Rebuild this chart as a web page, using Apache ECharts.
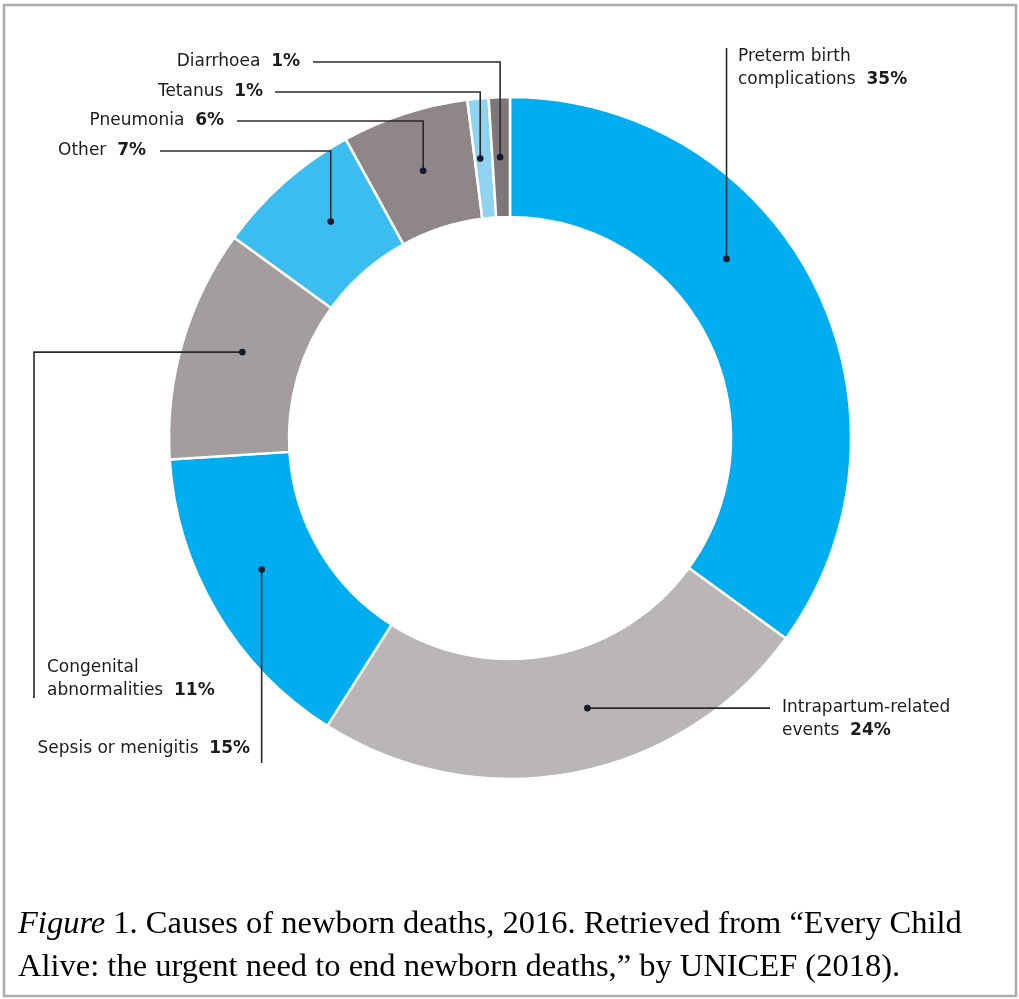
<!DOCTYPE html>
<html>
<head>
<meta charset="utf-8">
<script src="https://cdn.jsdelivr.net/npm/echarts@6/dist/echarts.min.js"></script>
<style>
html,body{margin:0;padding:0;background:#fff;}
#chart{width:1019px;height:999px;}
</style>
</head>
<body>
<div id="chart"></div>
<script>
// ---- data ----
const categories = ['Preterm birth complications', 'Intrapartum-related events', 'Sepsis or menigitis', 'Congenital abnormalities', 'Other', 'Pneumonia', 'Tetanus', 'Diarrhoea'];
const labelLines = [['Preterm birth', 'complications'], ['Intrapartum-related', 'events'], ['Sepsis or menigitis'], ['Congenital', 'abnormalities'], ['Other'], ['Pneumonia'], ['Tetanus'], ['Diarrhoea']];
const values = [35, 24, 15, 11, 7, 6, 1, 1];
const colors = ['#00AEEF', '#BAB5B6', '#00AEEF', '#A39D9E', '#3CBDEF', '#8E8687', '#8FD3F2', '#7E7778'];
const captionItalic = 'Figure';
const captionLine1 = ' 1. Causes of newborn deaths, 2016. Retrieved from \u201CEvery Child';
const captionLine2 = 'Alive: the urgent need to end newborn deaths,\u201D by UNICEF (2018).';

// ---- annotation layout (positions only) ----
const anchorFrac = [0.40, 0.44, 0.55, 0.54, 0.57, 0.50, 0.31, 0.44];
const routes = [
  {type: 'up', y: 48, lx: 738, ly: 68, align: 'left'},
  {type: 'right', x: 770, lx: 782, ly: 719, align: 'left'},
  {type: 'down', y: 763, lx: 250, ly: 749, align: 'right'},
  {type: 'leftDown', x: 34, y: 698, lx: 47, ly: 679, align: 'left'},
  {type: 'hv', y: 151, x: 160, lx: 146, ly: 151, align: 'right'},
  {type: 'hv', y: 121, x: 237, lx: 224, ly: 121, align: 'right'},
  {type: 'hv', y: 92, x: 275, lx: 263, ly: 92, align: 'right'},
  {type: 'hv', y: 62, x: 313, lx: 300, ly: 62, align: 'right'}
];

const chart = echarts.init(document.getElementById('chart'), null, {renderer: 'canvas'});
const CX = 510, CY = 438, R0 = 221, R1 = 341;

chart.setOption({
  animation: false,
  backgroundColor: '#ffffff',
  series: [{
    type: 'pie',
    center: [CX, CY],
    radius: [R0, R1],
    startAngle: 90,
    clockwise: true,
    avoidLabelOverlap: false,
    label: {show: false},
    labelLine: {show: false},
    emphasis: {disabled: true},
    itemStyle: {borderColor: '#ffffff', borderWidth: 2.5},
    data: categories.map((n, i) => ({name: n, value: values[i], itemStyle: {color: colors[i]}}))
  }]
});

// get slice layouts from the library
let layouts = [];
try {
  const d = chart.getModel().getSeriesByIndex(0).getData();
  for (let i = 0; i < values.length; i++) layouts.push(d.getItemLayout(i));
} catch (e) { layouts = []; }
if (layouts.length !== values.length) {
  const total = values.reduce((a, b) => a + b, 0);
  let cur = -Math.PI / 2;
  layouts = values.map(v => { const s = cur; cur += v / total * Math.PI * 2; return {cx: CX, cy: CY, r0: R0, r: R1, startAngle: s, endAngle: cur}; });
}

const TXT = '#1F1B1C';
const LINE = '#2A2A2A';
const rich = {
  n: {fontFamily: 'DejaVu Sans', fontSize: 17, fill: TXT, lineHeight: 23},
  p: {fontFamily: 'DejaVu Sans', fontSize: 17, fontWeight: 'bold', fill: TXT, lineHeight: 23}
};

const graphics = [];
// frame
graphics.push({type: 'rect', shape: {x: 4, y: 5, width: 1012, height: 991}, style: {fill: 'none', stroke: '#ADADAD', lineWidth: 2.5}, silent: true});

layouts.forEach((L, i) => {
  const a = L.startAngle + anchorFrac[i] * (L.endAngle - L.startAngle);
  const rm = (L.r0 + L.r) / 2;
  const dx = L.cx + rm * Math.cos(a);
  const dy = L.cy + rm * Math.sin(a);
  const rt = routes[i];
  let pts;
  if (rt.type === 'up' || rt.type === 'down') pts = [[dx, dy], [dx, rt.y]];
  else if (rt.type === 'right') pts = [[dx, dy], [rt.x, dy]];
  else if (rt.type === 'leftDown') pts = [[dx, dy], [rt.x, dy], [rt.x, rt.y]];
  else pts = [[dx, dy], [dx, rt.y], [rt.x, rt.y]];
  graphics.push({type: 'polyline', shape: {points: pts}, style: {stroke: LINE, lineWidth: 1.6, fill: 'none'}, silent: true, z: 10});
  graphics.push({type: 'circle', shape: {cx: dx, cy: dy, r: 3.3}, style: {fill: '#151A2A'}, silent: true, z: 11});
  const ls = labelLines[i];
  let text = '';
  ls.forEach((s, k) => {
    if (k > 0) text += '\n';
    text += '{n|' + s + '}';
    if (k === ls.length - 1) text += '{n|  }{p|' + values[i] + '%}';
  });
  graphics.push({type: 'text', x: rt.lx, y: rt.ly, silent: true, z: 12,
    style: {text: text, rich: rich, align: rt.align, verticalAlign: 'middle', fill: TXT, font: '17px "DejaVu Sans"'}});
});

// caption: size chosen so line 1 spans the same width as the reference
const SERIF = '"Liberation Serif", "Times New Roman", Times, serif';
const cv = document.createElement('canvas').getContext('2d');
cv.font = 'italic 27px ' + SERIF;
const wI = cv.measureText(captionItalic).width;
cv.font = '27px ' + SERIF;
const w1 = cv.measureText(captionLine1).width + wI;
const fs = Math.round(27 * 944 / w1 * 10) / 10;
graphics.push({type: 'text', x: 18, y: 924, silent: true,
  style: {text: '{i|' + captionItalic + '}{r|' + captionLine1 + '}', verticalAlign: 'middle', align: 'left',
    rich: {i: {font: 'italic ' + fs + 'px ' + SERIF, fill: '#000'}, r: {font: fs + 'px ' + SERIF, fill: '#000'}}}});
graphics.push({type: 'text', x: 18, y: 967, silent: true,
  style: {text: captionLine2, verticalAlign: 'middle', align: 'left', font: fs + 'px ' + SERIF, fill: '#000'}});

chart.setOption({graphic: graphics});
</script>
</body>
</html>
